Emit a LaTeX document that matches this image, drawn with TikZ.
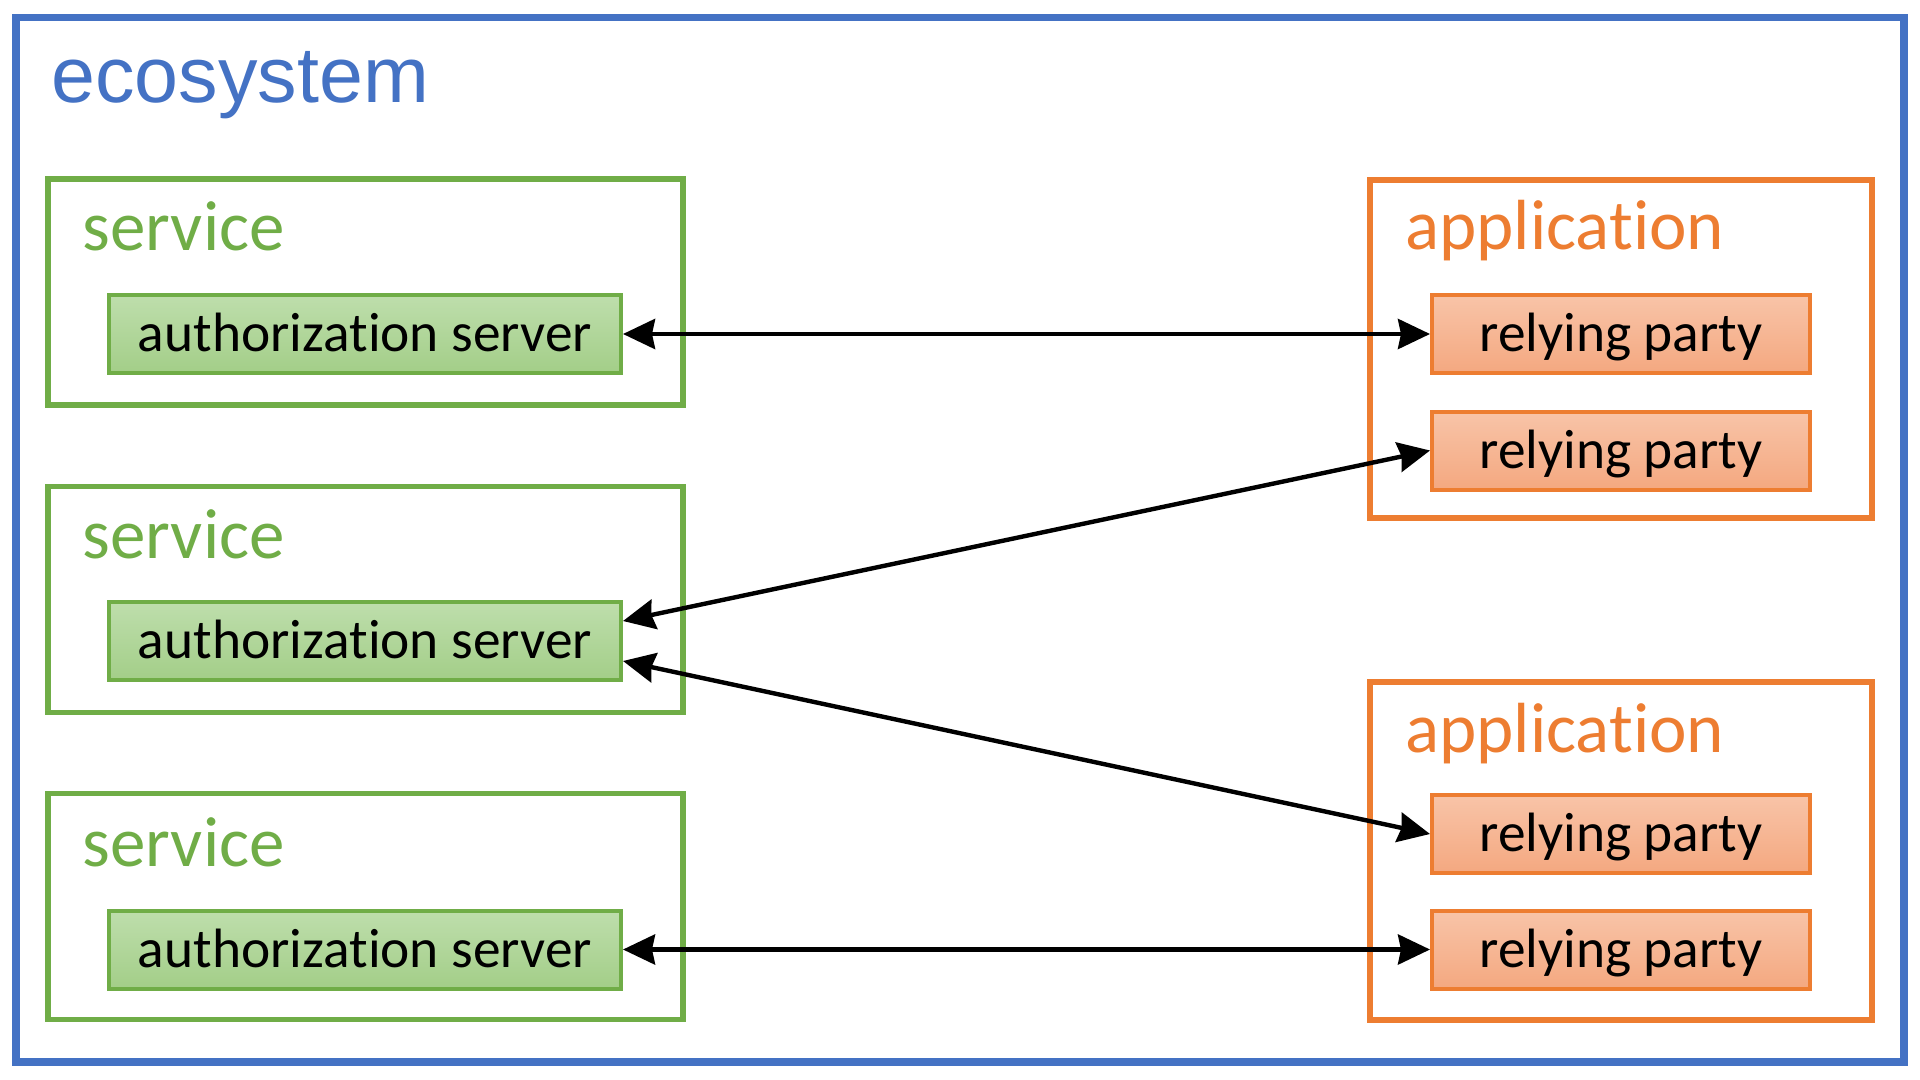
\documentclass[tikz,border=0pt]{standalone}
\usepackage{fontspec}
\setmainfont{Carlito}[Ligatures={NoCommon,NoContextual}]
\newfontfamily\ecofont{Liberation Sans}
\usepackage{tikz}
\usetikzlibrary{arrows.meta,positioning}

\definecolor{ecoblue}{HTML}{4472C4}
\definecolor{svcgreen}{HTML}{70AD47}
\definecolor{apporange}{HTML}{ED7D31}
\definecolor{authtop}{RGB}{190,222,172}
\definecolor{authbot}{RGB}{163,206,136}
\definecolor{rptop}{RGB}{248,196,168}
\definecolor{rpbot}{RGB}{244,168,128}

\begin{document}
\begin{tikzpicture}[
  x=0.5pt, y=-0.5pt,
  >={Stealth[length=16pt, width=15pt, inset=1.5pt]},
  ecobox/.style={
    rectangle, draw=ecoblue, line width=3.75pt,
    minimum width=944pt, minimum height=522pt, inner sep=0pt
  },
  svcbox/.style={
    rectangle, draw=svcgreen, line width=2.75pt,
    minimum width=317.5pt, minimum height=113pt, inner sep=0pt
  },
  appbox/.style={
    rectangle, draw=apporange, line width=2.75pt,
    minimum width=251pt, minimum height=169pt, inner sep=0pt
  },
  authbox/.style={
    rectangle, draw=svcgreen, line width=2pt, top color=authtop, bottom color=authbot,
    minimum width=256pt, minimum height=39pt, inner sep=0pt,
    font=\fontsize{27.7pt}{30pt}\selectfont, text height=22.7pt, text depth=5pt
  },
  rpbox/.style={
    authbox, draw=apporange, top color=rptop, bottom color=rpbot,
    minimum width=189pt
  },
  grouplabel/.style={
    anchor=base west, inner sep=0pt, font=\fontsize{35.5pt}{40pt}\selectfont
  },
  link/.style={line width=2.2pt, black}
]
\useasboundingbox (0,0) rectangle (1920,1080);

% Boxes
\node[ecobox] (eco) at (960,539.75) {};
\node[grouplabel, text=ecoblue, font=\ecofont\fontsize{39.5pt}{44pt}\selectfont]
  (ecolabel) at (51,103) {ecosystem};

\node[svcbox] (svc1) at (365.5,292) {};
\node[svcbox] (svc2) at (365.5,599.5) {};
\node[svcbox] (svc3) at (365.5,906.5) {};
\node[grouplabel, text=svcgreen] (svclabel1) at (82,251) {service};
\node[grouplabel, text=svcgreen] (svclabel2) at (82,558.5) {service};
\node[grouplabel, text=svcgreen] (svclabel3) at (82,866) {service};

\node[authbox] (auth1) at (365,334)   {authorization server};
\node[authbox] (auth2) at (365,641)   {authorization server};
\node[authbox] (auth3) at (365,949.5) {authorization server};

\node[appbox] (app1) at (1621,349) {};
\node[appbox] (app2) at (1621,851) {};
\node[grouplabel, text=apporange] (applabel1) at (1405,250) {application};
\node[grouplabel, text=apporange] (applabel2) at (1405,752) {application};

\node[rpbox] (rp1) at (1621,334)   {relying party};
\node[rpbox] (rp2) at (1621,450.5) {relying party};
\node[rpbox] (rp3) at (1621,834)   {relying party};
\node[rpbox] (rp4) at (1621,949.5) {relying party};

% Links
\draw[<->, link] (auth1.east) -- (rp1.west);
\draw[<->, link] ([yshift=10pt]auth2.east) -- (rp2.west);
\draw[<->, link] ([yshift=-10pt]auth2.east) -- (rp3.west);
\draw[<->, link] (auth3.east) -- (rp4.west);

\end{tikzpicture}
\end{document}
